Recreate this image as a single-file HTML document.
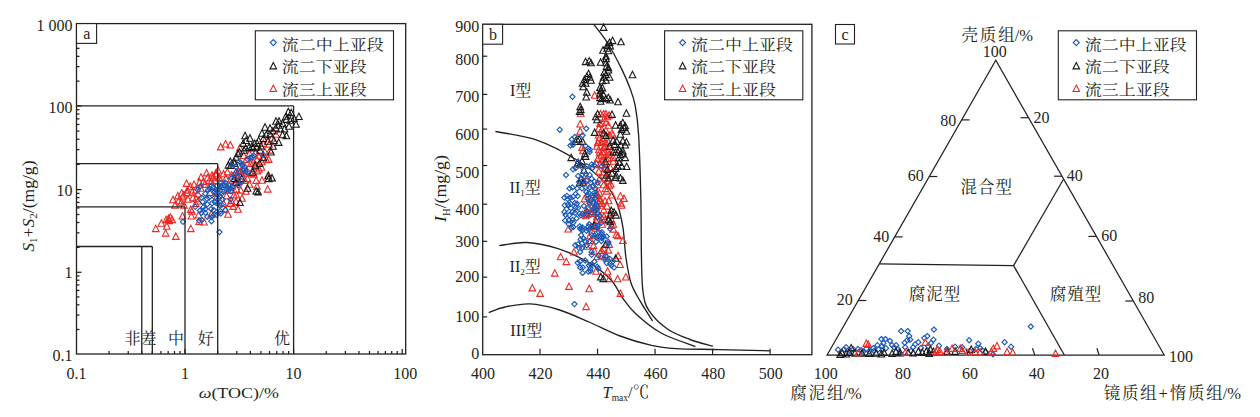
<!DOCTYPE html>
<html><head><meta charset="utf-8"><style>
html,body{margin:0;padding:0;background:#fff;overflow:hidden}
svg{display:block}
text{fill:#231f20}
</style></head><body>
<svg width="1260" height="417" viewBox="0 0 1260 417">
<rect width="1260" height="417" fill="#fff"/>
<line x1="109.09" y1="354.00" x2="109.09" y2="351.00" stroke="#231f20" stroke-width="1.25"/>
<line x1="128.22" y1="354.00" x2="128.22" y2="351.00" stroke="#231f20" stroke-width="1.25"/>
<line x1="141.78" y1="354.00" x2="141.78" y2="351.00" stroke="#231f20" stroke-width="1.25"/>
<line x1="152.31" y1="354.00" x2="152.31" y2="351.00" stroke="#231f20" stroke-width="1.25"/>
<line x1="160.91" y1="354.00" x2="160.91" y2="351.00" stroke="#231f20" stroke-width="1.25"/>
<line x1="168.18" y1="354.00" x2="168.18" y2="351.00" stroke="#231f20" stroke-width="1.25"/>
<line x1="174.48" y1="354.00" x2="174.48" y2="351.00" stroke="#231f20" stroke-width="1.25"/>
<line x1="180.03" y1="354.00" x2="180.03" y2="351.00" stroke="#231f20" stroke-width="1.25"/>
<line x1="185.00" y1="354.00" x2="185.00" y2="349.00" stroke="#231f20" stroke-width="1.25"/>
<line x1="217.69" y1="354.00" x2="217.69" y2="351.00" stroke="#231f20" stroke-width="1.25"/>
<line x1="236.82" y1="354.00" x2="236.82" y2="351.00" stroke="#231f20" stroke-width="1.25"/>
<line x1="250.38" y1="354.00" x2="250.38" y2="351.00" stroke="#231f20" stroke-width="1.25"/>
<line x1="260.91" y1="354.00" x2="260.91" y2="351.00" stroke="#231f20" stroke-width="1.25"/>
<line x1="269.51" y1="354.00" x2="269.51" y2="351.00" stroke="#231f20" stroke-width="1.25"/>
<line x1="276.78" y1="354.00" x2="276.78" y2="351.00" stroke="#231f20" stroke-width="1.25"/>
<line x1="283.08" y1="354.00" x2="283.08" y2="351.00" stroke="#231f20" stroke-width="1.25"/>
<line x1="288.63" y1="354.00" x2="288.63" y2="351.00" stroke="#231f20" stroke-width="1.25"/>
<line x1="293.60" y1="354.00" x2="293.60" y2="349.00" stroke="#231f20" stroke-width="1.25"/>
<line x1="326.29" y1="354.00" x2="326.29" y2="351.00" stroke="#231f20" stroke-width="1.25"/>
<line x1="345.42" y1="354.00" x2="345.42" y2="351.00" stroke="#231f20" stroke-width="1.25"/>
<line x1="358.98" y1="354.00" x2="358.98" y2="351.00" stroke="#231f20" stroke-width="1.25"/>
<line x1="369.51" y1="354.00" x2="369.51" y2="351.00" stroke="#231f20" stroke-width="1.25"/>
<line x1="378.11" y1="354.00" x2="378.11" y2="351.00" stroke="#231f20" stroke-width="1.25"/>
<line x1="385.38" y1="354.00" x2="385.38" y2="351.00" stroke="#231f20" stroke-width="1.25"/>
<line x1="391.68" y1="354.00" x2="391.68" y2="351.00" stroke="#231f20" stroke-width="1.25"/>
<line x1="397.23" y1="354.00" x2="397.23" y2="351.00" stroke="#231f20" stroke-width="1.25"/>
<line x1="402.20" y1="354.00" x2="402.20" y2="349.00" stroke="#231f20" stroke-width="1.25"/>
<line x1="76.50" y1="329.48" x2="79.50" y2="329.48" stroke="#231f20" stroke-width="1.25"/>
<line x1="76.50" y1="315.07" x2="79.50" y2="315.07" stroke="#231f20" stroke-width="1.25"/>
<line x1="76.50" y1="304.85" x2="79.50" y2="304.85" stroke="#231f20" stroke-width="1.25"/>
<line x1="76.50" y1="296.92" x2="79.50" y2="296.92" stroke="#231f20" stroke-width="1.25"/>
<line x1="76.50" y1="290.45" x2="79.50" y2="290.45" stroke="#231f20" stroke-width="1.25"/>
<line x1="76.50" y1="284.97" x2="79.50" y2="284.97" stroke="#231f20" stroke-width="1.25"/>
<line x1="76.50" y1="280.23" x2="79.50" y2="280.23" stroke="#231f20" stroke-width="1.25"/>
<line x1="76.50" y1="276.04" x2="79.50" y2="276.04" stroke="#231f20" stroke-width="1.25"/>
<line x1="76.50" y1="272.30" x2="81.50" y2="272.30" stroke="#231f20" stroke-width="1.25"/>
<line x1="76.50" y1="247.40" x2="79.50" y2="247.40" stroke="#231f20" stroke-width="1.25"/>
<line x1="76.50" y1="232.84" x2="79.50" y2="232.84" stroke="#231f20" stroke-width="1.25"/>
<line x1="76.50" y1="222.51" x2="79.50" y2="222.51" stroke="#231f20" stroke-width="1.25"/>
<line x1="76.50" y1="214.50" x2="79.50" y2="214.50" stroke="#231f20" stroke-width="1.25"/>
<line x1="76.50" y1="207.95" x2="79.50" y2="207.95" stroke="#231f20" stroke-width="1.25"/>
<line x1="76.50" y1="202.41" x2="79.50" y2="202.41" stroke="#231f20" stroke-width="1.25"/>
<line x1="76.50" y1="197.61" x2="79.50" y2="197.61" stroke="#231f20" stroke-width="1.25"/>
<line x1="76.50" y1="193.38" x2="79.50" y2="193.38" stroke="#231f20" stroke-width="1.25"/>
<line x1="76.50" y1="189.60" x2="81.50" y2="189.60" stroke="#231f20" stroke-width="1.25"/>
<line x1="76.50" y1="164.40" x2="79.50" y2="164.40" stroke="#231f20" stroke-width="1.25"/>
<line x1="76.50" y1="149.66" x2="79.50" y2="149.66" stroke="#231f20" stroke-width="1.25"/>
<line x1="76.50" y1="139.21" x2="79.50" y2="139.21" stroke="#231f20" stroke-width="1.25"/>
<line x1="76.50" y1="131.10" x2="79.50" y2="131.10" stroke="#231f20" stroke-width="1.25"/>
<line x1="76.50" y1="124.47" x2="79.50" y2="124.47" stroke="#231f20" stroke-width="1.25"/>
<line x1="76.50" y1="118.87" x2="79.50" y2="118.87" stroke="#231f20" stroke-width="1.25"/>
<line x1="76.50" y1="114.01" x2="79.50" y2="114.01" stroke="#231f20" stroke-width="1.25"/>
<line x1="76.50" y1="109.73" x2="79.50" y2="109.73" stroke="#231f20" stroke-width="1.25"/>
<line x1="76.50" y1="105.90" x2="81.50" y2="105.90" stroke="#231f20" stroke-width="1.25"/>
<line x1="76.50" y1="81.13" x2="79.50" y2="81.13" stroke="#231f20" stroke-width="1.25"/>
<line x1="76.50" y1="66.63" x2="79.50" y2="66.63" stroke="#231f20" stroke-width="1.25"/>
<line x1="76.50" y1="56.35" x2="79.50" y2="56.35" stroke="#231f20" stroke-width="1.25"/>
<line x1="76.50" y1="48.37" x2="79.50" y2="48.37" stroke="#231f20" stroke-width="1.25"/>
<line x1="76.50" y1="41.86" x2="79.50" y2="41.86" stroke="#231f20" stroke-width="1.25"/>
<line x1="76.50" y1="36.35" x2="79.50" y2="36.35" stroke="#231f20" stroke-width="1.25"/>
<line x1="76.50" y1="31.58" x2="79.50" y2="31.58" stroke="#231f20" stroke-width="1.25"/>
<line x1="76.50" y1="27.37" x2="79.50" y2="27.37" stroke="#231f20" stroke-width="1.25"/>
<text x="124.50" y="343.60" font-size="16" text-anchor="start" font-family='"Liberation Serif", "Noto Serif CJK SC", serif' >非差</text>
<text x="168.00" y="343.60" font-size="16" text-anchor="start" font-family='"Liberation Serif", "Noto Serif CJK SC", serif' >中</text>
<text x="197.80" y="343.60" font-size="16" text-anchor="start" font-family='"Liberation Serif", "Noto Serif CJK SC", serif' >好</text>
<text x="273.90" y="343.60" font-size="16" text-anchor="start" font-family='"Liberation Serif", "Noto Serif CJK SC", serif' >优</text>
<path d="M155.8 225.2L159.1 231.6L152.5 231.6ZM161.4 219.8L164.7 226.2L158.1 226.2ZM165.6 229.7L168.9 236.1L162.3 236.1ZM166.8 222.8L170.1 229.2L163.5 229.2ZM166.2 216.2L169.5 222.6L162.9 222.6ZM168.6 215.0L171.9 221.4L165.3 221.4ZM170.4 213.8L173.7 220.2L167.1 220.2ZM172.2 216.2L175.5 222.6L168.9 222.6ZM169.2 217.4L172.5 223.8L165.9 223.8ZM175.8 233.0L179.1 239.4L172.5 239.4ZM190.8 225.2L194.1 231.6L187.5 231.6ZM182.4 212.6L185.7 219.0L179.1 219.0ZM191.4 212.6L194.7 219.0L188.1 219.0ZM190.8 206.0L194.1 212.4L187.5 212.4ZM173.0 196.3L176.3 202.7L169.7 202.7ZM177.8 192.5L181.1 198.9L174.5 198.9ZM181.7 189.6L185.0 196.0L178.4 196.0ZM178.8 197.3L182.1 203.7L175.5 203.7ZM182.6 193.5L185.9 199.9L179.3 199.9ZM186.5 180.0L189.8 186.4L183.2 186.4ZM190.3 182.9L193.6 189.3L187.0 189.3ZM194.1 181.0L197.4 187.4L190.8 187.4ZM187.4 186.7L190.7 193.1L184.1 193.1ZM192.2 188.7L195.5 195.1L188.9 195.1ZM196.0 195.4L199.3 201.8L192.7 201.8ZM198.0 190.6L201.3 197.0L194.7 197.0ZM200.8 184.8L204.1 191.2L197.5 191.2ZM204.7 181.0L208.0 187.4L201.4 187.4ZM206.6 169.5L209.9 175.9L203.3 175.9ZM207.6 174.3L210.9 180.7L204.3 180.7ZM211.4 178.1L214.7 184.5L208.1 184.5ZM213.3 182.9L216.6 189.3L210.0 189.3ZM225.8 175.2L229.1 181.6L222.5 181.6ZM222.9 181.0L226.2 187.4L219.6 187.4ZM226.7 186.7L230.0 193.1L223.4 193.1ZM220.7 143.5L224.0 149.9L217.4 149.9ZM225.5 140.6L228.8 147.0L222.2 147.0ZM230.3 141.6L233.6 148.0L227.0 148.0ZM209.2 177.1L212.5 183.5L205.9 183.5ZM214.9 177.1L218.2 183.5L211.6 183.5ZM203.4 178.0L206.7 184.4L200.1 184.4ZM223.6 170.4L226.9 176.8L220.3 176.8ZM227.4 168.5L230.7 174.9L224.1 174.9ZM220.7 177.1L224.0 183.5L217.4 183.5ZM228.4 180.9L231.7 187.3L225.1 187.3ZM231.2 186.7L234.5 193.1L227.9 193.1ZM234.1 191.5L237.4 197.9L230.8 197.9ZM226.5 192.4L229.8 198.8L223.2 198.8ZM231.2 197.2L234.5 203.6L227.9 203.6ZM233.2 203.0L236.5 209.4L229.9 209.4ZM223.6 200.1L226.9 206.5L220.3 206.5ZM225.5 205.9L228.8 212.3L222.2 212.3ZM236.0 198.2L239.3 204.6L232.7 204.6ZM240.8 186.7L244.1 193.1L237.5 193.1ZM244.7 177.1L248.0 183.5L241.4 183.5ZM249.5 180.9L252.8 187.3L246.2 187.3ZM247.6 175.2L250.9 181.6L244.3 181.6ZM256.2 177.1L259.5 183.5L252.9 183.5ZM259.1 165.6L262.4 172.0L255.8 172.0ZM253.3 158.9L256.6 165.3L250.0 165.3ZM257.1 156.0L260.4 162.4L253.8 162.4ZM262.9 154.1L266.2 160.5L259.6 160.5ZM249.5 150.2L252.8 156.6L246.2 156.6ZM243.7 152.1L247.0 158.5L240.4 158.5ZM239.9 144.5L243.2 150.9L236.6 150.9ZM267.7 185.7L271.0 192.1L264.4 192.1ZM268.7 156.0L272.0 162.4L265.4 162.4ZM195.8 186.7L199.1 193.1L192.5 193.1ZM192.9 194.4L196.2 200.8L189.6 200.8ZM195.8 200.1L199.1 206.5L192.5 206.5ZM199.6 179.0L202.9 185.4L196.3 185.4ZM191.9 207.8L195.2 214.2L188.6 214.2ZM198.6 211.6L201.9 218.0L195.3 218.0ZM263.4 140.0L266.7 146.4L260.1 146.4ZM269.1 140.9L272.4 147.3L265.8 147.3ZM270.1 146.7L273.4 153.1L266.8 153.1ZM255.7 148.6L259.0 155.0L252.4 155.0ZM258.6 152.4L261.9 158.8L255.3 158.8ZM266.3 156.3L269.6 162.7L263.0 162.7ZM250.9 160.1L254.2 166.5L247.6 166.5ZM255.7 163.0L259.0 169.4L252.4 169.4ZM244.2 162.0L247.5 168.4L240.9 168.4ZM238.4 167.8L241.7 174.2L235.1 174.2ZM236.5 172.6L239.8 179.0L233.2 179.0ZM246.1 169.7L249.4 176.1L242.8 176.1ZM253.8 170.7L257.1 177.1L250.5 177.1ZM268.2 171.6L271.5 178.0L264.9 178.0ZM261.5 163.9L264.8 170.3L258.2 170.3ZM181.2 198.8L184.5 205.2L177.9 205.2ZM230.4 200.0L233.7 206.4L227.1 206.4ZM236.4 191.6L239.7 198.0L233.1 198.0ZM183.6 191.6L186.9 198.0L180.3 198.0ZM187.2 189.2L190.5 195.6L183.9 195.6ZM198.0 197.6L201.3 204.0L194.7 204.0ZM199.2 218.0L202.5 224.4L195.9 224.4ZM204.0 218.6L207.3 225.0L200.7 225.0ZM211.2 210.8L214.5 217.2L207.9 217.2ZM175.0 201.8L178.3 208.2L171.7 208.2ZM184.0 201.8L187.3 208.2L180.7 208.2ZM188.0 195.8L191.3 202.2L184.7 202.2ZM201.0 173.8L204.3 180.2L197.7 180.2ZM216.0 171.8L219.3 178.2L212.7 178.2ZM218.0 166.8L221.3 173.2L214.7 173.2ZM212.0 171.8L215.3 178.2L208.7 178.2ZM276.0 130.8L279.3 137.2L272.7 137.2ZM272.0 134.8L275.3 141.2L268.7 141.2ZM262.0 176.8L265.3 183.2L258.7 183.2ZM257.0 182.8L260.3 189.2L253.7 189.2ZM246.0 187.8L249.3 194.2L242.7 194.2ZM242.0 194.8L245.3 201.2L238.7 201.2ZM238.0 205.8L241.3 212.2L234.7 212.2ZM228.0 210.8L231.3 217.2L224.7 217.2ZM209.7 189.1L213.0 195.6L206.4 195.6ZM235.7 169.2L239.0 175.7L232.4 175.7ZM232.1 182.8L235.4 189.3L228.8 189.3ZM216.5 194.0L219.8 200.5L213.2 200.5ZM264.9 148.3L268.2 154.8L261.6 154.8ZM231.5 171.6L234.8 178.0L228.2 178.0ZM215.8 169.7L219.1 176.2L212.5 176.2ZM246.2 156.1L249.5 162.5L242.9 162.5ZM236.4 176.2L239.7 182.7L233.1 182.7ZM257.4 167.5L260.7 173.9L254.1 173.9ZM212.5 174.2L215.8 180.7L209.2 180.7ZM236.6 185.7L239.9 192.2L233.3 192.2ZM261.9 158.4L265.2 164.8L258.6 164.8ZM241.6 169.7L244.9 176.2L238.3 176.2ZM219.4 174.2L222.7 180.6L216.1 180.6ZM240.4 168.1L243.7 174.5L237.1 174.5ZM238.8 177.9L242.1 184.4L235.5 184.4ZM244.1 169.7L247.4 176.1L240.8 176.1ZM218.4 188.9L221.7 195.3L215.1 195.3ZM251.2 169.5L254.5 176.0L247.9 176.0Z" fill="none" stroke="#ea2a25" stroke-width="1.1"/>
<path d="M291.2 109.3L294.5 115.7L287.9 115.7ZM298.9 113.1L302.2 119.5L295.6 119.5ZM296.0 120.8L299.3 127.2L292.7 127.2ZM290.2 116.9L293.5 123.3L286.9 123.3ZM286.4 116.0L289.7 122.4L283.1 122.4ZM282.6 119.8L285.9 126.2L279.3 126.2ZM278.7 121.8L282.0 128.2L275.4 128.2ZM275.8 124.6L279.1 131.0L272.5 131.0ZM273.0 127.5L276.3 133.9L269.7 133.9ZM280.6 125.6L283.9 132.0L277.3 132.0ZM284.5 125.6L287.8 132.0L281.2 132.0ZM270.1 130.4L273.4 136.8L266.8 136.8ZM266.3 131.3L269.6 137.7L263.0 137.7ZM282.6 131.3L285.9 137.7L279.3 137.7ZM286.4 132.3L289.7 138.7L283.1 138.7ZM245.1 132.3L248.4 138.7L241.8 138.7ZM246.1 137.1L249.4 143.5L242.8 143.5ZM243.2 140.0L246.5 146.4L239.9 146.4ZM263.4 135.2L266.7 141.6L260.1 141.6ZM258.6 137.1L261.9 143.5L255.3 143.5ZM254.7 140.0L258.0 146.4L251.4 146.4ZM251.9 142.8L255.2 149.2L248.6 149.2ZM249.0 143.8L252.3 150.2L245.7 150.2ZM256.6 143.8L259.9 150.2L253.3 150.2ZM273.9 137.1L277.2 143.5L270.6 143.5ZM278.7 139.0L282.0 145.4L275.4 145.4ZM273.0 142.8L276.3 149.2L269.7 149.2ZM239.4 148.6L242.7 155.0L236.1 155.0ZM234.6 160.1L237.9 166.5L231.3 166.5ZM230.8 162.0L234.1 168.4L227.5 168.4ZM252.8 168.8L256.1 175.2L249.5 175.2ZM268.2 172.6L271.5 179.0L264.9 179.0ZM272.0 174.5L275.3 180.9L268.7 180.9ZM263.4 154.4L266.7 160.8L260.1 160.8ZM259.5 160.1L262.8 166.5L256.2 166.5ZM271.0 148.6L274.3 155.0L267.7 155.0ZM288.3 108.3L291.6 114.7L285.0 114.7ZM294.1 115.0L297.4 121.4L290.8 121.4ZM230.3 157.9L233.6 164.3L227.0 164.3ZM234.1 157.9L237.4 164.3L230.8 164.3ZM228.4 161.7L231.7 168.1L225.1 168.1ZM238.0 150.2L241.3 156.6L234.7 156.6ZM245.6 144.5L248.9 150.9L242.3 150.9ZM257.1 139.7L260.4 146.1L253.8 146.1ZM261.0 142.6L264.3 149.0L257.7 149.0ZM253.3 144.5L256.6 150.9L250.0 150.9ZM255.2 161.7L258.5 168.1L251.9 168.1ZM247.6 184.8L250.9 191.2L244.3 191.2ZM256.2 187.6L259.5 194.0L252.9 194.0ZM258.1 188.6L261.4 195.0L254.8 195.0ZM239.9 199.1L243.2 205.5L236.6 205.5ZM268.7 175.2L272.0 181.6L265.4 181.6ZM234.1 175.2L237.4 181.6L230.8 181.6ZM236.0 179.0L239.3 185.4L232.7 185.4ZM241.8 175.2L245.1 181.6L238.5 181.6ZM286.0 112.8L289.3 119.2L282.7 119.2ZM279.0 117.8L282.3 124.2L275.7 124.2ZM270.0 124.8L273.3 131.2L266.7 131.2ZM262.0 129.8L265.3 136.2L258.7 136.2ZM250.0 134.8L253.3 141.2L246.7 141.2ZM265.0 123.8L268.3 130.2L261.7 130.2ZM276.0 117.8L279.3 124.2L272.7 124.2ZM289.0 122.8L292.3 129.2L285.7 129.2ZM268.0 137.8L271.3 144.2L264.7 144.2ZM260.0 146.8L263.3 153.2L256.7 153.2ZM244.0 146.8L247.3 153.2L240.7 153.2ZM236.0 153.8L239.3 160.2L232.7 160.2Z" fill="none" stroke="#1a1a1a" stroke-width="1.1"/>
<path d="M195.3 204.2L197.9 206.8L195.3 209.4L192.7 206.8ZM183.0 219.2L185.6 221.8L183.0 224.4L180.4 221.8ZM199.2 218.0L201.8 220.6L199.2 223.2L196.6 220.6ZM219.4 229.5L222.0 232.1L219.4 234.7L216.8 232.1ZM231.2 162.3L233.8 164.9L231.2 167.5L228.6 164.9ZM236.0 164.3L238.6 166.9L236.0 169.5L233.4 166.9ZM240.8 160.4L243.4 163.0L240.8 165.6L238.2 163.0ZM244.7 164.3L247.3 166.9L244.7 169.5L242.1 166.9ZM247.6 156.6L250.2 159.2L247.6 161.8L245.0 159.2ZM252.4 154.7L255.0 157.3L252.4 159.9L249.8 157.3ZM239.9 169.1L242.5 171.7L239.9 174.3L237.3 171.7ZM245.6 169.1L248.2 171.7L245.6 174.3L243.0 171.7ZM234.1 171.9L236.7 174.5L234.1 177.1L231.5 174.5ZM238.0 173.9L240.6 176.5L238.0 179.1L235.4 176.5ZM241.8 178.6L244.4 181.2L241.8 183.8L239.2 181.2ZM238.9 182.5L241.5 185.1L238.9 187.7L236.3 185.1ZM231.2 175.8L233.8 178.4L231.2 181.0L228.6 178.4ZM224.5 182.5L227.1 185.1L224.5 187.7L221.9 185.1ZM220.7 184.4L223.3 187.0L220.7 189.6L218.1 187.0ZM228.4 185.4L231.0 188.0L228.4 190.6L225.8 188.0ZM223.6 189.2L226.2 191.8L223.6 194.4L221.0 191.8ZM217.8 187.3L220.4 189.9L217.8 192.5L215.2 189.9ZM214.9 195.0L217.5 197.6L214.9 200.2L212.3 197.6ZM218.8 195.9L221.4 198.5L218.8 201.1L216.2 198.5ZM222.6 196.9L225.2 199.5L222.6 202.1L220.0 199.5ZM219.7 202.6L222.3 205.2L219.7 207.8L217.1 205.2ZM211.1 183.5L213.7 186.1L211.1 188.7L208.5 186.1ZM208.2 187.3L210.8 189.9L208.2 192.5L205.6 189.9ZM205.3 191.1L207.9 193.7L205.3 196.3L202.7 193.7ZM201.5 195.0L204.1 197.6L201.5 200.2L198.9 197.6ZM209.2 195.0L211.8 197.6L209.2 200.2L206.6 197.6ZM212.1 200.7L214.7 203.3L212.1 205.9L209.5 203.3ZM207.3 201.7L209.9 204.3L207.3 206.9L204.7 204.3ZM203.4 204.6L206.0 207.2L203.4 209.8L200.8 207.2ZM211.1 206.5L213.7 209.1L211.1 211.7L208.5 209.1ZM216.9 209.4L219.5 212.0L216.9 214.6L214.3 212.0ZM205.3 210.3L207.9 212.9L205.3 215.5L202.7 212.9ZM201.5 210.3L204.1 212.9L201.5 215.5L198.9 212.9ZM213.0 213.2L215.6 215.8L213.0 218.4L210.4 215.8ZM207.3 214.1L209.9 216.7L207.3 219.3L204.7 216.7ZM197.7 187.3L200.3 189.9L197.7 192.5L195.1 189.9ZM200.6 183.5L203.2 186.1L200.6 188.7L198.0 186.1ZM239.4 158.8L242.0 161.4L239.4 164.0L236.8 161.4ZM242.3 162.6L244.9 165.2L242.3 167.8L239.7 165.2ZM250.0 155.0L252.6 157.6L250.0 160.2L247.4 157.6ZM253.8 153.0L256.4 155.6L253.8 158.2L251.2 155.6ZM263.4 152.1L266.0 154.7L263.4 157.3L260.8 154.7ZM244.2 166.4L246.8 169.0L244.2 171.6L241.6 169.0ZM236.5 169.4L239.1 172.0L236.5 174.6L233.9 172.0ZM248.0 169.4L250.6 172.0L248.0 174.6L245.4 172.0ZM214.6 188.7L217.2 191.3L214.6 193.9L212.0 191.3ZM215.3 190.8L217.9 193.4L215.3 196.0L212.7 193.4ZM217.4 200.9L220.0 203.5L217.4 206.1L214.8 203.5ZM222.6 185.0L225.2 187.6L222.6 190.2L220.0 187.6ZM211.4 218.6L214.0 221.2L211.4 223.8L208.8 221.2ZM232.7 184.2L235.3 186.8L232.7 189.4L230.1 186.8ZM225.4 207.4L228.0 210.0L225.4 212.6L222.8 210.0ZM215.1 199.7L217.7 202.3L215.1 204.9L212.5 202.3ZM216.5 212.3L219.1 214.9L216.5 217.5L213.9 214.9ZM211.4 214.5L214.0 217.1L211.4 219.7L208.8 217.1ZM230.5 196.8L233.1 199.4L230.5 202.0L227.9 199.4ZM230.8 188.7L233.4 191.3L230.8 193.9L228.2 191.3ZM221.8 202.1L224.4 204.7L221.8 207.3L219.2 204.7ZM209.9 186.1L212.5 188.7L209.9 191.3L207.3 188.7ZM220.8 180.6L223.4 183.2L220.8 185.8L218.2 183.2ZM230.8 185.4L233.4 188.0L230.8 190.6L228.2 188.0ZM225.1 179.9L227.7 182.5L225.1 185.1L222.5 182.5ZM202.7 199.3L205.3 201.9L202.7 204.5L200.1 201.9ZM228.9 187.7L231.5 190.3L228.9 192.9L226.3 190.3ZM213.8 207.5L216.4 210.1L213.8 212.7L211.2 210.1ZM201.9 217.5L204.5 220.1L201.9 222.7L199.3 220.1ZM199.9 208.0L202.5 210.6L199.9 213.2L197.3 210.6ZM205.4 206.4L208.0 209.0L205.4 211.6L202.8 209.0ZM220.5 208.6L223.1 211.2L220.5 213.8L217.9 211.2ZM215.5 186.9L218.1 189.5L215.5 192.1L212.9 189.5ZM222.1 190.7L224.7 193.3L222.1 195.9L219.5 193.3ZM229.6 182.8L232.2 185.4L229.6 188.0L227.0 185.4ZM219.5 193.9L222.1 196.5L219.5 199.1L216.9 196.5ZM217.0 183.4L219.6 186.0L217.0 188.6L214.4 186.0ZM207.1 196.1L209.7 198.7L207.1 201.3L204.5 198.7ZM220.8 211.0L223.4 213.6L220.8 216.2L218.2 213.6Z" fill="none" stroke="#1f5cb8" stroke-width="1.2"/>
<line x1="76.50" y1="105.90" x2="293.60" y2="105.90" stroke="#231f20" stroke-width="1.3"/>
<line x1="293.60" y1="105.90" x2="293.60" y2="354.00" stroke="#231f20" stroke-width="1.3"/>
<line x1="76.50" y1="163.70" x2="217.69" y2="163.70" stroke="#231f20" stroke-width="1.3"/>
<line x1="217.69" y1="163.70" x2="217.69" y2="354.00" stroke="#231f20" stroke-width="1.3"/>
<line x1="76.50" y1="206.90" x2="185.00" y2="206.90" stroke="#231f20" stroke-width="1.3"/>
<line x1="185.00" y1="206.90" x2="185.00" y2="354.00" stroke="#231f20" stroke-width="1.3"/>
<line x1="76.50" y1="246.50" x2="152.31" y2="246.50" stroke="#231f20" stroke-width="1.3"/>
<line x1="152.31" y1="246.50" x2="152.31" y2="354.00" stroke="#231f20" stroke-width="1.3"/>
<line x1="141.78" y1="246.50" x2="141.78" y2="354.00" stroke="#231f20" stroke-width="1.3"/>
<rect x="76.50" y="23.60" width="329.20" height="330.40" fill="none" stroke="#231f20" stroke-width="1.3"/>
<rect x="76.50" y="23.60" width="20.10" height="19.80" fill="#fff" stroke="#231f20" stroke-width="1.1"/>
<text x="86.80" y="39.30" font-size="16" text-anchor="middle" font-family='"Liberation Serif", "Noto Serif CJK SC", serif' >a</text>
<text x="72.60" y="360.70" font-size="16" text-anchor="end" font-family='"Liberation Serif", "Noto Serif CJK SC", serif' >0.1</text>
<text x="72.60" y="278.00" font-size="16" text-anchor="end" font-family='"Liberation Serif", "Noto Serif CJK SC", serif' >1</text>
<text x="72.60" y="196.20" font-size="16" text-anchor="end" font-family='"Liberation Serif", "Noto Serif CJK SC", serif' >10</text>
<text x="72.60" y="112.90" font-size="16" text-anchor="end" font-family='"Liberation Serif", "Noto Serif CJK SC", serif' >100</text>
<text x="72.60" y="30.90" font-size="16" text-anchor="end" font-family='"Liberation Serif", "Noto Serif CJK SC", serif' >1 000</text>
<text x="76.40" y="379.00" font-size="16" text-anchor="middle" font-family='"Liberation Serif", "Noto Serif CJK SC", serif' >0.1</text>
<text x="185.00" y="379.00" font-size="16" text-anchor="middle" font-family='"Liberation Serif", "Noto Serif CJK SC", serif' >1</text>
<text x="293.60" y="379.00" font-size="16" text-anchor="middle" font-family='"Liberation Serif", "Noto Serif CJK SC", serif' >10</text>
<text x="405.20" y="379.00" font-size="16" text-anchor="middle" font-family='"Liberation Serif", "Noto Serif CJK SC", serif' >100</text>
<text transform="translate(238.8,397.9) scale(1.16,1)" font-size="15.5" text-anchor="middle" font-family='"Liberation Serif", "Noto Serif CJK SC", serif'><tspan font-style="italic">ω</tspan>(TOC)/%</text>
<text transform="translate(33.6,206.1) rotate(-90) scale(1.1,1)" font-size="16" text-anchor="middle" font-family='"Liberation Serif", "Noto Serif CJK SC", serif'><tspan font-style="italic">S</tspan><tspan font-size="10" dy="3">1</tspan><tspan dy="-3">+</tspan><tspan font-style="italic">S</tspan><tspan font-size="10" dy="3">2</tspan><tspan dy="-3">/(mg/g)</tspan></text>
<rect x="255.30" y="30.80" width="138.20" height="69.00" fill="#fff" stroke="#231f20" stroke-width="1.1"/>
<path d="M273.3 39.6L276.3 42.6L273.3 45.6L270.3 42.6Z" fill="none" stroke="#1f5cb8" stroke-width="1.2"/>
<path d="M273.3 62.5L276.6 68.9L270.0 68.9Z" fill="none" stroke="#1a1a1a" stroke-width="1.1"/>
<path d="M273.3 85.1L276.6 91.5L270.0 91.5Z" fill="none" stroke="#ea2a25" stroke-width="1.1"/>
<text transform="translate(281.70,49.80) scale(1,0.87)" font-size="17" font-family='"Liberation Serif", "Noto Serif CJK SC", serif'>流二中上亚段</text>
<text transform="translate(281.70,72.30) scale(1,0.87)" font-size="17" font-family='"Liberation Serif", "Noto Serif CJK SC", serif'>流二下亚段</text>
<text transform="translate(281.70,95.00) scale(1,0.87)" font-size="17" font-family='"Liberation Serif", "Noto Serif CJK SC", serif'>流三上亚段</text>
<line x1="482.70" y1="316.90" x2="487.20" y2="316.90" stroke="#231f20" stroke-width="1.2"/>
<line x1="482.70" y1="277.20" x2="487.20" y2="277.20" stroke="#231f20" stroke-width="1.2"/>
<line x1="482.70" y1="241.30" x2="487.20" y2="241.30" stroke="#231f20" stroke-width="1.2"/>
<line x1="482.70" y1="204.20" x2="487.20" y2="204.20" stroke="#231f20" stroke-width="1.2"/>
<line x1="482.70" y1="165.50" x2="487.20" y2="165.50" stroke="#231f20" stroke-width="1.2"/>
<line x1="482.70" y1="129.10" x2="487.20" y2="129.10" stroke="#231f20" stroke-width="1.2"/>
<line x1="482.70" y1="94.40" x2="487.20" y2="94.40" stroke="#231f20" stroke-width="1.2"/>
<line x1="482.70" y1="56.20" x2="487.20" y2="56.20" stroke="#231f20" stroke-width="1.2"/>
<line x1="540.02" y1="354.70" x2="540.02" y2="348.70" stroke="#231f20" stroke-width="1.2"/>
<line x1="597.54" y1="354.70" x2="597.54" y2="348.70" stroke="#231f20" stroke-width="1.2"/>
<line x1="655.06" y1="354.70" x2="655.06" y2="348.70" stroke="#231f20" stroke-width="1.2"/>
<line x1="712.58" y1="354.70" x2="712.58" y2="348.70" stroke="#231f20" stroke-width="1.2"/>
<line x1="770.10" y1="354.70" x2="770.10" y2="348.70" stroke="#231f20" stroke-width="1.2"/>
<path d="M488.7 312.6C491.4 311.7 498.1 308.4 505.0 307.0C511.9 305.6 521.2 303.5 530.0 303.9C538.8 304.3 548.2 306.5 558.0 309.5C567.8 312.5 578.7 317.6 589.0 322.0C599.3 326.4 609.6 332.1 620.0 336.0C630.4 339.9 642.2 343.3 651.5 345.4C660.8 347.5 664.6 347.9 676.0 348.6C687.4 349.3 704.3 349.2 720.0 349.6C735.7 350.0 761.7 350.6 770.0 350.8" fill="none" stroke="#231f20" stroke-width="1.35"/>
<path d="M499.3 245.6C503.9 245.1 517.0 242.0 526.8 242.5C536.6 243.0 547.6 245.3 558.0 248.7C568.4 252.1 580.2 257.5 589.0 262.7C597.8 267.9 605.3 274.0 611.0 280.0C616.7 286.0 618.8 292.9 623.0 298.6C627.2 304.3 629.7 308.3 636.0 314.0C642.3 319.7 651.1 327.6 661.0 333.0C670.9 338.4 689.7 344.3 695.4 346.6" fill="none" stroke="#231f20" stroke-width="1.35"/>
<path d="M495.4 131.5C502.4 133.0 524.2 135.6 537.6 140.3C551.0 145.0 565.1 152.8 576.0 159.5C586.9 166.2 596.1 173.6 602.8 180.6C609.5 187.6 613.0 194.0 616.3 201.7C619.6 209.4 621.2 217.3 622.8 226.7C624.4 236.1 624.6 248.6 626.0 258.0C627.4 267.4 628.6 275.7 631.0 283.0C633.4 290.3 636.9 295.4 640.5 301.7C644.1 308.0 650.6 317.8 652.6 321.0" fill="none" stroke="#231f20" stroke-width="1.35"/>
<path d="M593.8 24.3C596.1 27.4 603.0 35.6 607.6 43.0C612.2 50.4 617.8 61.2 621.6 68.9C625.4 76.6 628.0 82.8 630.3 89.0C632.6 95.2 633.9 98.5 635.3 106.2C636.7 113.9 637.7 119.9 638.6 135.0C639.5 150.1 640.3 176.2 640.8 197.0C641.3 217.8 641.1 244.2 641.5 260.0C641.9 275.8 641.8 283.2 643.0 291.6C644.2 300.0 644.7 304.1 648.8 310.3C652.9 316.5 660.6 324.1 667.5 329.0C674.4 333.9 682.4 336.6 690.0 339.5C697.6 342.4 709.1 345.1 712.9 346.2" fill="none" stroke="#231f20" stroke-width="1.35"/>
<text x="510.00" y="95.60" font-size="16" text-anchor="start" font-family='"Liberation Serif", "Noto Serif CJK SC", serif' >I型</text>
<text x="509.6" y="193.0" font-size="16" font-family='"Liberation Serif", "Noto Serif CJK SC", serif'>II<tspan font-size="9" dy="3">1</tspan><tspan dy="-3">型</tspan></text>
<text x="509.6" y="272.2" font-size="16" font-family='"Liberation Serif", "Noto Serif CJK SC", serif'>II<tspan font-size="9" dy="3">2</tspan><tspan dy="-3">型</tspan></text>
<text x="510.30" y="335.80" font-size="16" text-anchor="start" font-family='"Liberation Serif", "Noto Serif CJK SC", serif' >III型</text>
<path d="M594.6 91.8L597.9 98.2L591.3 98.2ZM580.8 109.8L584.1 116.2L577.5 116.2ZM603.6 110.4L606.9 116.8L600.3 116.8ZM606.0 110.4L609.3 116.8L602.7 116.8ZM580.2 120.6L583.5 127.0L576.9 127.0ZM580.2 127.8L583.5 134.2L576.9 134.2ZM582.0 144.0L585.3 150.4L578.7 150.4ZM604.2 115.2L607.5 121.6L600.9 121.6ZM600.0 120.0L603.3 126.4L596.7 126.4ZM606.0 118.8L609.3 125.2L602.7 125.2ZM608.4 121.8L611.7 128.2L605.1 128.2ZM598.8 124.8L602.1 131.2L595.5 131.2ZM601.8 126.0L605.1 132.4L598.5 132.4ZM606.0 127.2L609.3 133.6L602.7 133.6ZM612.0 129.6L615.3 136.0L608.7 136.0ZM609.6 132.0L612.9 138.4L606.3 138.4ZM599.4 134.4L602.7 140.8L596.1 140.8ZM602.4 135.6L605.7 142.0L599.1 142.0ZM597.6 139.2L600.9 145.6L594.3 145.6ZM601.2 139.2L604.5 145.6L597.9 145.6ZM605.4 138.0L608.7 144.4L602.1 144.4ZM597.0 142.8L600.3 149.2L593.7 149.2ZM600.6 142.8L603.9 149.2L597.3 149.2ZM603.6 144.0L606.9 150.4L600.3 150.4ZM598.8 146.4L602.1 152.8L595.5 152.8ZM602.4 148.2L605.7 154.6L599.1 154.6ZM612.0 146.4L615.3 152.8L608.7 152.8ZM608.4 151.2L611.7 157.6L605.1 157.6ZM601.2 152.4L604.5 158.8L597.9 158.8ZM613.2 154.2L616.5 160.6L609.9 160.6ZM597.6 155.4L600.9 161.8L594.3 161.8ZM601.2 156.6L604.5 163.0L597.9 163.0ZM606.0 155.4L609.3 161.8L602.7 161.8ZM613.2 157.8L616.5 164.2L609.9 164.2ZM620.4 192.6L623.7 199.0L617.1 199.0ZM624.0 195.0L627.3 201.4L620.7 201.4ZM610.8 180.6L614.1 187.0L607.5 187.0ZM604.8 165.0L608.1 171.4L601.5 171.4ZM607.2 113.3L610.5 119.7L603.9 119.7ZM602.4 119.3L605.7 125.7L599.1 125.7ZM568.2 225.6L571.5 232.0L564.9 232.0ZM560.6 253.4L563.9 259.8L557.3 259.8ZM566.3 258.2L569.6 264.6L563.0 264.6ZM554.8 269.7L558.1 276.1L551.5 276.1ZM574.0 248.6L577.3 255.0L570.7 255.0ZM621.0 199.7L624.3 206.1L617.7 206.1ZM616.2 231.3L619.5 237.7L612.9 237.7ZM622.9 237.1L626.2 243.5L619.6 243.5ZM618.1 252.4L621.4 258.8L614.8 258.8ZM620.0 261.1L623.3 267.5L616.7 267.5ZM613.3 220.8L616.6 227.2L610.0 227.2ZM607.6 267.8L610.9 274.2L604.3 274.2ZM596.0 267.8L599.3 274.2L592.7 274.2ZM532.3 284.5L535.6 290.9L529.0 290.9ZM540.1 290.0L543.4 296.4L536.8 296.4ZM569.0 283.0L572.3 289.4L565.7 289.4ZM589.2 285.3L592.5 291.7L585.9 291.7ZM586.1 303.2L589.4 309.6L582.8 309.6ZM609.5 275.2L612.8 281.6L606.2 281.6ZM625.8 273.6L629.1 280.0L622.5 280.0ZM620.4 290.0L623.7 296.4L617.1 296.4ZM597.0 253.4L600.3 259.8L593.7 259.8ZM621.6 201.9L624.9 208.3L618.3 208.3ZM617.6 275.4L620.9 281.8L614.3 281.8ZM599.8 148.7L603.1 155.1L596.5 155.1ZM604.6 148.7L607.9 155.1L601.3 155.1ZM608.4 147.8L611.7 154.2L605.1 154.2ZM603.6 155.4L606.9 161.8L600.3 161.8ZM608.4 155.4L611.7 161.8L605.1 161.8ZM599.8 161.2L603.1 167.6L596.5 167.6ZM605.5 161.2L608.8 167.6L602.2 167.6ZM610.3 164.1L613.6 170.5L607.0 170.5ZM598.8 167.9L602.1 174.3L595.5 174.3ZM603.6 168.9L606.9 175.3L600.3 175.3ZM608.4 169.8L611.7 176.2L605.1 176.2ZM599.8 174.6L603.1 181.0L596.5 181.0ZM604.6 174.6L607.9 181.0L601.3 181.0ZM608.4 177.5L611.7 183.9L605.1 183.9ZM597.8 181.3L601.1 187.7L594.5 187.7ZM603.6 181.3L606.9 187.7L600.3 187.7ZM609.3 182.3L612.6 188.7L606.0 188.7ZM605.5 185.2L608.8 191.6L602.2 191.6ZM577.2 160.2L580.5 166.6L573.9 166.6ZM583.9 177.5L587.2 183.9L580.6 183.9ZM586.8 175.6L590.1 182.0L583.5 182.0ZM596.4 160.2L599.7 166.6L593.1 166.6ZM583.0 147.3L586.3 153.7L579.7 153.7ZM590.6 237.2L593.9 243.6L587.3 243.6ZM593.5 242.0L596.8 248.4L590.2 248.4ZM586.8 242.9L590.1 249.3L583.5 249.3ZM594.5 232.4L597.8 238.8L591.2 238.8ZM589.7 232.4L593.0 238.8L586.4 238.8ZM613.2 225.7L616.5 232.1L609.9 232.1ZM618.0 232.4L621.3 238.8L614.7 238.8ZM609.3 241.0L612.6 247.4L606.0 247.4ZM612.8 131.7L616.1 138.1L609.5 138.1ZM609.1 111.7L612.4 118.2L605.8 118.2ZM608.5 138.7L611.8 145.2L605.2 145.2ZM600.5 110.5L603.8 116.9L597.2 116.9ZM598.5 131.6L601.8 138.0L595.2 138.0ZM606.3 139.9L609.6 146.3L603.0 146.3ZM607.0 202.6L610.3 209.1L603.7 209.1ZM599.4 189.6L602.7 196.1L596.1 196.1ZM608.7 197.3L612.0 203.7L605.4 203.7ZM600.1 197.8L603.4 204.2L596.8 204.2ZM601.9 199.5L605.2 206.0L598.6 206.0ZM596.4 189.0L599.7 195.5L593.1 195.5ZM612.0 191.6L615.3 198.0L608.7 198.0ZM599.2 200.0L602.5 206.5L595.9 206.5ZM606.6 187.6L609.9 194.1L603.3 194.1ZM605.0 197.4L608.3 203.8L601.7 203.8ZM597.3 197.1L600.6 203.6L594.0 203.6ZM596.5 191.2L599.8 197.6L593.2 197.6ZM597.4 202.0L600.7 208.5L594.1 208.5ZM593.8 205.4L597.1 211.9L590.5 211.9ZM596.1 217.4L599.4 223.9L592.8 223.9ZM595.7 224.8L599.0 231.2L592.4 231.2ZM585.8 209.5L589.1 216.0L582.5 216.0ZM593.3 208.2L596.6 214.7L590.0 214.7ZM586.2 207.0L589.5 213.5L582.9 213.5ZM595.7 221.9L599.0 228.3L592.4 228.3ZM596.8 213.5L600.1 220.0L593.5 220.0ZM585.7 212.2L589.0 218.7L582.4 218.7ZM588.7 203.6L592.0 210.1L585.4 210.1ZM591.0 210.0L594.3 216.5L587.7 216.5ZM591.1 223.2L594.4 229.6L587.8 229.6ZM604.1 212.9L607.4 219.4L600.8 219.4ZM605.0 216.3L608.3 222.7L601.7 222.7ZM602.4 215.8L605.7 222.3L599.1 222.3ZM598.2 209.5L601.5 216.0L594.9 216.0ZM603.7 206.5L607.0 212.9L600.4 212.9ZM610.6 209.7L613.9 216.1L607.3 216.1ZM611.4 221.9L614.7 228.4L608.1 228.4ZM602.3 220.7L605.6 227.2L599.0 227.2ZM611.7 216.4L615.0 222.9L608.4 222.9ZM601.8 251.8L605.1 258.3L598.5 258.3ZM608.4 246.7L611.7 253.1L605.1 253.1ZM605.5 250.8L608.8 257.3L602.2 257.3ZM603.9 244.9L607.2 251.3L600.6 251.3ZM594.4 247.6L597.7 254.1L591.1 254.1ZM601.5 246.9L604.8 253.4L598.2 253.4ZM606.7 253.2L610.0 259.7L603.4 259.7ZM600.6 232.6L603.9 239.0L597.3 239.0ZM600.1 195.4L603.4 201.8L596.8 201.8ZM594.7 210.0L598.0 216.5L591.4 216.5ZM593.5 197.4L596.8 203.8L590.2 203.8ZM587.5 210.9L590.8 217.4L584.2 217.4ZM584.4 195.5L587.7 201.9L581.1 201.9ZM593.2 223.3L596.5 229.8L589.9 229.8ZM590.5 194.2L593.8 200.7L587.2 200.7Z" fill="none" stroke="#ea2a25" stroke-width="1.1"/>
<path d="M603.6 24.0L606.9 30.4L600.3 30.4ZM612.6 37.2L615.9 43.6L609.3 43.6ZM621.0 38.4L624.3 44.8L617.7 44.8ZM609.6 39.0L612.9 45.4L606.3 45.4ZM607.2 42.0L610.5 48.4L603.9 48.4ZM610.2 42.6L613.5 49.0L606.9 49.0ZM603.0 46.8L606.3 53.2L599.7 53.2ZM608.4 47.4L611.7 53.8L605.1 53.8ZM606.0 52.8L609.3 59.2L602.7 59.2ZM606.0 55.2L609.3 61.6L602.7 61.6ZM585.6 58.2L588.9 64.6L582.3 64.6ZM589.2 57.6L592.5 64.0L585.9 64.0ZM591.0 59.4L594.3 65.8L587.7 65.8ZM600.6 58.8L603.9 65.2L597.3 65.2ZM606.0 59.4L609.3 65.8L602.7 65.8ZM606.6 63.0L609.9 69.4L603.3 69.4ZM608.4 64.2L611.7 70.6L605.1 70.6ZM588.6 70.2L591.9 76.6L585.3 76.6ZM586.8 73.2L590.1 79.6L583.5 79.6ZM589.8 73.8L593.1 80.2L586.5 80.2ZM584.4 76.2L587.7 82.6L581.1 82.6ZM591.0 76.8L594.3 83.2L587.7 83.2ZM582.6 79.8L585.9 86.2L579.3 86.2ZM585.6 79.8L588.9 86.2L582.3 86.2ZM583.2 83.4L586.5 89.8L579.9 89.8ZM586.8 88.8L590.1 95.2L583.5 95.2ZM586.2 93.6L589.5 100.0L582.9 100.0ZM608.4 66.6L611.7 73.0L605.1 73.0ZM604.2 69.0L607.5 75.4L600.9 75.4ZM606.0 71.4L609.3 77.8L602.7 77.8ZM603.6 73.8L606.9 80.2L600.3 80.2ZM609.6 73.8L612.9 80.2L606.3 80.2ZM606.0 76.8L609.3 83.2L602.7 83.2ZM602.4 77.4L605.7 83.8L599.1 83.8ZM600.0 84.0L603.3 90.4L596.7 90.4ZM600.6 87.0L603.9 93.4L597.3 93.4ZM600.0 90.6L603.3 97.0L596.7 97.0ZM603.0 90.6L606.3 97.0L599.7 97.0ZM600.0 94.2L603.3 100.6L596.7 100.6ZM601.8 95.4L605.1 101.8L598.5 101.8ZM606.0 95.4L609.3 101.8L602.7 101.8ZM608.4 94.2L611.7 100.6L605.1 100.6ZM610.2 96.6L613.5 103.0L606.9 103.0ZM600.6 97.8L603.9 104.2L597.3 104.2ZM618.0 98.4L621.3 104.8L614.7 104.8ZM580.2 103.2L583.5 109.6L576.9 109.6ZM580.8 106.2L584.1 112.6L577.5 112.6ZM597.6 110.4L600.9 116.8L594.3 116.8ZM612.0 111.0L615.3 117.4L608.7 117.4ZM626.4 109.8L629.7 116.2L623.1 116.2ZM607.2 44.8L610.5 51.2L603.9 51.2ZM632.5 71.3L635.8 77.7L629.2 77.7ZM602.4 84.5L605.7 90.9L599.1 90.9ZM615.6 121.8L618.9 128.2L612.3 128.2ZM622.8 119.3L626.1 125.7L619.5 125.7ZM624.0 124.2L627.3 130.6L620.7 130.6ZM579.6 108.0L582.9 114.4L576.3 114.4ZM595.8 113.4L599.1 119.8L592.5 119.8ZM597.0 116.4L600.3 122.8L593.7 122.8ZM620.4 121.8L623.7 128.2L617.1 128.2ZM625.2 122.4L628.5 128.8L621.9 128.8ZM621.6 126.0L624.9 132.4L618.3 132.4ZM626.4 127.8L629.7 134.2L623.1 134.2ZM620.4 130.8L623.7 137.2L617.1 137.2ZM594.6 129.0L597.9 135.4L591.3 135.4ZM603.6 129.6L606.9 136.0L600.3 136.0ZM606.0 132.0L609.3 138.4L602.7 138.4ZM579.0 135.6L582.3 142.0L575.7 142.0ZM582.6 138.0L585.9 144.4L579.3 144.4ZM575.4 138.0L578.7 144.4L572.1 144.4ZM613.2 136.8L616.5 143.2L609.9 143.2ZM616.8 138.0L620.1 144.4L613.5 144.4ZM622.8 137.4L626.1 143.8L619.5 143.8ZM626.4 138.6L629.7 145.0L623.1 145.0ZM614.4 141.0L617.7 147.4L611.1 147.4ZM620.4 141.6L623.7 148.0L617.1 148.0ZM625.2 141.6L628.5 148.0L621.9 148.0ZM609.6 142.8L612.9 149.2L606.3 149.2ZM619.2 146.4L622.5 152.8L615.9 152.8ZM622.8 147.6L626.1 154.0L619.5 154.0ZM615.6 148.8L618.9 155.2L612.3 155.2ZM620.4 151.2L623.7 157.6L617.1 157.6ZM585.6 153.0L588.9 159.4L582.3 159.4ZM625.2 154.2L628.5 160.6L621.9 160.6ZM571.2 154.2L574.5 160.6L567.9 160.6ZM582.0 157.8L585.3 164.2L578.7 164.2ZM619.2 159.0L622.5 165.4L615.9 165.4ZM621.6 162.6L624.9 169.0L618.3 169.0ZM615.6 165.0L618.9 171.4L612.3 171.4ZM612.0 169.8L615.3 176.2L608.7 176.2ZM615.6 174.0L618.9 180.4L612.3 180.4ZM620.4 174.6L623.7 181.0L617.1 181.0ZM622.8 177.0L626.1 183.4L619.5 183.4ZM579.6 179.4L582.9 185.8L576.3 185.8ZM577.0 135.7L580.3 142.1L573.7 142.1ZM585.0 150.2L588.3 156.6L581.7 156.6ZM579.7 160.8L583.0 167.2L576.4 167.2ZM594.1 221.8L597.4 228.2L590.8 228.2ZM605.6 240.9L608.9 247.3L602.3 247.3ZM600.8 273.5L604.1 279.9L597.5 279.9ZM603.2 275.2L606.5 281.6L599.9 281.6ZM615.7 254.9L619.0 261.3L612.4 261.3ZM584.0 166.8L587.3 173.2L580.7 173.2ZM578.1 159.3L581.4 165.7L574.8 165.7ZM581.0 175.6L584.3 182.0L577.7 182.0ZM583.0 179.4L586.3 185.8L579.7 185.8ZM613.2 148.7L616.5 155.1L609.9 155.1ZM618.0 148.7L621.3 155.1L614.7 155.1ZM622.8 150.6L626.1 157.0L619.5 157.0ZM618.9 154.5L622.2 160.9L615.6 160.9ZM626.6 163.1L629.9 169.5L623.3 169.5ZM618.0 163.1L621.3 169.5L614.7 169.5ZM616.1 171.7L619.4 178.1L612.8 178.1ZM608.4 174.6L611.7 181.0L605.1 181.0ZM606.5 171.7L609.8 178.1L603.2 178.1ZM607.4 166.0L610.7 172.4L604.1 172.4ZM605.5 158.3L608.8 164.7L602.2 164.7ZM611.3 206.9L614.6 213.3L608.0 213.3ZM614.1 208.8L617.4 215.2L610.8 215.2ZM616.1 211.7L619.4 218.1L612.8 218.1ZM610.3 211.7L613.6 218.1L607.0 218.1ZM608.4 216.5L611.7 222.9L605.1 222.9ZM610.3 218.4L613.6 224.8L607.0 224.8Z" fill="none" stroke="#1a1a1a" stroke-width="1.1"/>
<path d="M572.4 94.2L575.0 96.8L572.4 99.4L569.8 96.8ZM586.2 126.0L588.8 128.6L586.2 131.2L583.6 128.6ZM582.6 132.6L585.2 135.2L582.6 137.8L580.0 135.2ZM574.8 134.4L577.4 137.0L574.8 139.6L572.2 137.0ZM571.8 136.8L574.4 139.4L571.8 142.0L569.2 139.4ZM573.0 142.2L575.6 144.8L573.0 147.4L570.4 144.8ZM585.6 143.4L588.2 146.0L585.6 148.6L583.0 146.0ZM588.0 145.8L590.6 148.4L588.0 151.0L585.4 148.4ZM589.8 147.0L592.4 149.6L589.8 152.2L587.2 149.6ZM559.8 127.1L562.4 129.7L559.8 132.3L557.2 129.7ZM570.4 142.9L573.0 145.5L570.4 148.1L567.8 145.5ZM575.7 165.4L578.3 168.0L575.7 170.6L573.1 168.0ZM573.0 166.7L575.6 169.3L573.0 171.9L570.4 169.3ZM574.4 301.5L577.0 304.1L574.4 306.7L571.8 304.1ZM566.0 172.4L568.6 175.0L566.0 177.6L563.4 175.0ZM578.0 159.4L580.6 162.0L578.0 164.6L575.4 162.0ZM589.7 149.3L592.3 151.9L589.7 154.5L587.1 151.9ZM582.0 164.7L584.6 167.3L582.0 169.9L579.4 167.3ZM586.8 163.7L589.4 166.3L586.8 168.9L584.2 166.3ZM591.6 161.8L594.2 164.4L591.6 167.0L589.0 164.4ZM592.5 165.1L595.1 167.7L592.5 170.3L589.9 167.7ZM578.1 173.3L580.7 175.9L578.1 178.5L575.5 175.9ZM582.0 172.3L584.6 174.9L582.0 177.5L579.4 174.9ZM585.8 171.4L588.4 174.0L585.8 176.6L583.2 174.0ZM589.7 172.3L592.3 174.9L589.7 177.5L587.1 174.9ZM591.6 176.2L594.2 178.8L591.6 181.4L589.0 178.8ZM579.1 179.1L581.7 181.7L579.1 184.3L576.5 181.7ZM583.0 178.1L585.6 180.7L583.0 183.3L580.4 180.7ZM586.8 178.1L589.4 180.7L586.8 183.3L584.2 180.7ZM590.6 180.0L593.2 182.6L590.6 185.2L588.0 182.6ZM594.5 179.1L597.1 181.7L594.5 184.3L591.9 181.7ZM569.5 185.8L572.1 188.4L569.5 191.0L566.9 188.4ZM572.4 184.8L575.0 187.4L572.4 190.0L569.8 187.4ZM577.2 185.8L579.8 188.4L577.2 191.0L574.6 188.4ZM582.0 185.8L584.6 188.4L582.0 191.0L579.4 188.4ZM585.8 184.8L588.4 187.4L585.8 190.0L583.2 187.4ZM589.7 184.8L592.3 187.4L589.7 190.0L587.1 187.4ZM595.4 185.8L598.0 188.4L595.4 191.0L592.8 188.4ZM601.7 163.7L604.3 166.3L601.7 168.9L599.1 166.3ZM597.8 180.0L600.4 182.6L597.8 185.2L595.2 182.6ZM594.0 162.7L596.6 165.3L594.0 167.9L591.4 165.3ZM575.3 242.6L577.9 245.2L575.3 247.8L572.7 245.2ZM578.1 241.6L580.7 244.2L578.1 246.8L575.5 244.2ZM582.0 240.7L584.6 243.3L582.0 245.9L579.4 243.3ZM579.1 245.5L581.7 248.1L579.1 250.7L576.5 248.1ZM582.0 245.5L584.6 248.1L582.0 250.7L579.4 248.1ZM580.1 249.3L582.7 251.9L580.1 254.5L577.5 251.9ZM584.9 238.7L587.5 241.3L584.9 243.9L582.3 241.3ZM586.8 242.6L589.4 245.2L586.8 247.8L584.2 245.2ZM591.6 249.3L594.2 251.9L591.6 254.5L589.0 251.9ZM591.6 252.2L594.2 254.8L591.6 257.4L589.0 254.8ZM580.1 258.9L582.7 261.5L580.1 264.1L577.5 261.5ZM594.5 258.9L597.1 261.5L594.5 264.1L591.9 261.5ZM571.4 225.3L574.0 227.9L571.4 230.5L568.8 227.9ZM573.3 224.4L575.9 227.0L573.3 229.6L570.7 227.0ZM579.6 211.0L582.2 213.6L579.6 216.2L577.0 213.6ZM586.3 189.4L588.9 192.0L586.3 194.6L583.7 192.0ZM572.6 217.4L575.2 220.0L572.6 222.6L570.0 220.0ZM587.2 208.7L589.8 211.3L587.2 213.9L584.6 211.3ZM582.5 211.2L585.1 213.8L582.5 216.4L579.9 213.8ZM568.1 201.9L570.7 204.5L568.1 207.1L565.5 204.5ZM568.7 221.5L571.3 224.1L568.7 226.7L566.1 224.1ZM565.1 217.8L567.7 220.4L565.1 223.0L562.5 220.4ZM565.6 212.3L568.2 214.9L565.6 217.5L563.0 214.9ZM574.8 200.4L577.4 203.0L574.8 205.6L572.2 203.0ZM592.5 184.2L595.1 186.8L592.5 189.4L589.9 186.8ZM597.5 223.2L600.1 225.8L597.5 228.4L594.9 225.8ZM567.7 196.5L570.3 199.1L567.7 201.7L565.1 199.1ZM569.0 217.7L571.6 220.3L569.0 222.9L566.4 220.3ZM577.0 201.0L579.6 203.6L577.0 206.2L574.4 203.6ZM583.9 203.4L586.5 206.0L583.9 208.6L581.3 206.0ZM588.4 224.0L591.0 226.6L588.4 229.2L585.8 226.6ZM597.2 211.3L599.8 213.9L597.2 216.5L594.6 213.9ZM587.2 211.7L589.8 214.3L587.2 216.9L584.6 214.3ZM567.0 193.3L569.6 195.9L567.0 198.5L564.4 195.9ZM575.7 204.9L578.3 207.5L575.7 210.1L573.1 207.5ZM591.4 204.4L594.0 207.0L591.4 209.6L588.8 207.0ZM578.1 205.2L580.7 207.8L578.1 210.4L575.5 207.8ZM570.8 201.3L573.4 203.9L570.8 206.5L568.2 203.9ZM576.6 215.8L579.2 218.4L576.6 221.0L574.0 218.4ZM566.6 206.5L569.2 209.1L566.6 211.7L564.0 209.1ZM569.2 212.6L571.8 215.2L569.2 217.8L566.6 215.2ZM564.3 195.0L566.9 197.6L564.3 200.2L561.7 197.6ZM575.0 210.2L577.6 212.8L575.0 215.4L572.4 212.8ZM564.8 202.7L567.4 205.3L564.8 207.9L562.2 205.3ZM570.3 195.2L572.9 197.8L570.3 200.4L567.7 197.8ZM579.7 223.7L582.3 226.3L579.7 228.9L577.1 226.3ZM575.7 191.3L578.3 193.9L575.7 196.5L573.1 193.9ZM589.2 221.7L591.8 224.3L589.2 226.9L586.6 224.3ZM590.0 197.8L592.6 200.4L590.0 203.0L587.4 200.4ZM564.4 209.4L567.0 212.0L564.4 214.6L561.8 212.0ZM597.4 225.3L600.0 227.9L597.4 230.5L594.8 227.9ZM592.1 210.3L594.7 212.9L592.1 215.5L589.5 212.9ZM571.0 205.5L573.6 208.1L571.0 210.7L568.4 208.1ZM594.3 190.2L596.9 192.8L594.3 195.4L591.7 192.8ZM573.2 220.1L575.8 222.7L573.2 225.3L570.6 222.7ZM581.0 212.6L583.6 215.2L581.0 217.8L578.4 215.2ZM587.7 192.4L590.3 195.0L587.7 197.6L585.1 195.0ZM573.0 194.1L575.6 196.7L573.0 199.3L570.4 196.7ZM577.7 193.5L580.3 196.1L577.7 198.7L575.1 196.1ZM595.2 223.8L597.8 226.4L595.2 229.0L592.6 226.4ZM589.6 200.9L592.2 203.5L589.6 206.1L587.0 203.5ZM583.5 236.0L586.1 238.6L583.5 241.2L580.9 238.6ZM589.0 227.2L591.6 229.8L589.0 232.4L586.4 229.8ZM594.6 232.8L597.2 235.4L594.6 238.0L592.0 235.4ZM586.5 228.2L589.1 230.8L586.5 233.4L583.9 230.8ZM601.9 229.6L604.5 232.2L601.9 234.8L599.3 232.2ZM601.3 238.4L603.9 241.0L601.3 243.6L598.7 241.0ZM608.2 241.3L610.8 243.9L608.2 246.5L605.6 243.9ZM603.5 234.3L606.1 236.9L603.5 239.5L600.9 236.9ZM608.4 239.3L611.0 241.9L608.4 244.5L605.8 241.9ZM596.4 234.7L599.0 237.3L596.4 239.9L593.8 237.3ZM596.0 239.1L598.6 241.7L596.0 244.3L593.4 241.7ZM598.6 229.2L601.2 231.8L598.6 234.4L596.0 231.8ZM581.1 232.5L583.7 235.1L581.1 237.7L578.5 235.1ZM610.2 226.2L612.8 228.8L610.2 231.4L607.6 228.8ZM601.6 235.4L604.2 238.0L601.6 240.6L599.0 238.0ZM582.8 227.3L585.4 229.9L582.8 232.5L580.2 229.9ZM601.7 231.7L604.3 234.3L601.7 236.9L599.1 234.3ZM591.7 232.5L594.3 235.1L591.7 237.7L589.1 235.1ZM580.6 236.8L583.2 239.4L580.6 242.0L578.0 239.4ZM598.2 233.6L600.8 236.2L598.2 238.8L595.6 236.2ZM589.2 238.8L591.8 241.4L589.2 244.0L586.6 241.4ZM606.7 233.8L609.3 236.4L606.7 239.0L604.1 236.4ZM580.2 226.2L582.8 228.8L580.2 231.4L577.6 228.8ZM582.5 224.9L585.1 227.5L582.5 230.1L579.9 227.5ZM600.3 233.7L602.9 236.3L600.3 238.9L597.7 236.3ZM601.4 220.0L604.0 222.6L601.4 225.2L598.8 222.6ZM599.7 213.2L602.3 215.8L599.7 218.4L597.1 215.8ZM597.2 204.1L599.8 206.7L597.2 209.3L594.6 206.7ZM596.9 206.9L599.5 209.5L596.9 212.1L594.3 209.5ZM595.2 208.5L597.8 211.1L595.2 213.7L592.6 211.1ZM597.4 214.6L600.0 217.2L597.4 219.8L594.8 217.2ZM596.2 202.2L598.8 204.8L596.2 207.4L593.6 204.8ZM595.0 192.2L597.6 194.8L595.0 197.4L592.4 194.8ZM572.6 209.4L575.2 212.0L572.6 214.6L570.0 212.0ZM587.6 196.3L590.2 198.9L587.6 201.5L585.0 198.9ZM593.3 194.0L595.9 196.6L593.3 199.2L590.7 196.6ZM595.0 195.8L597.6 198.4L595.0 201.0L592.4 198.4ZM589.0 190.4L591.6 193.0L589.0 195.6L586.4 193.0ZM593.2 201.2L595.8 203.8L593.2 206.4L590.6 203.8ZM594.5 204.9L597.1 207.5L594.5 210.1L591.9 207.5ZM590.5 265.7L593.1 268.3L590.5 270.9L587.9 268.3ZM588.3 269.0L590.9 271.6L588.3 274.2L585.7 271.6ZM580.2 264.9L582.8 267.5L580.2 270.1L577.6 267.5ZM590.5 268.5L593.1 271.1L590.5 273.7L587.9 271.1ZM585.2 257.9L587.8 260.5L585.2 263.1L582.6 260.5ZM582.6 270.3L585.2 272.9L582.6 275.5L580.0 272.9ZM577.7 260.2L580.3 262.8L577.7 265.4L575.1 262.8ZM591.2 262.1L593.8 264.7L591.2 267.3L588.6 264.7ZM582.8 264.8L585.4 267.4L582.8 270.0L580.2 267.4ZM588.9 262.8L591.5 265.4L588.9 268.0L586.3 265.4ZM597.3 264.1L599.9 266.7L597.3 269.3L594.7 266.7ZM606.7 260.5L609.3 263.1L606.7 265.7L604.1 263.1ZM598.3 265.9L600.9 268.5L598.3 271.1L595.7 268.5ZM610.2 261.1L612.8 263.7L610.2 266.3L607.6 263.7ZM604.1 256.4L606.7 259.0L604.1 261.6L601.5 259.0ZM605.7 253.6L608.3 256.2L605.7 258.8L603.1 256.2ZM609.9 256.3L612.5 258.9L609.9 261.5L607.3 258.9ZM598.7 253.1L601.3 255.7L598.7 258.3L596.1 255.7ZM614.0 265.0L616.6 267.6L614.0 270.2L611.4 267.6ZM611.5 262.9L614.1 265.5L611.5 268.1L608.9 265.5ZM613.0 258.7L615.6 261.3L613.0 263.9L610.4 261.3Z" fill="none" stroke="#1f5cb8" stroke-width="1.2"/>
<rect x="482.70" y="24.30" width="329.20" height="330.40" fill="none" stroke="#231f20" stroke-width="1.3"/>
<rect x="482.70" y="24.30" width="19.90" height="19.90" fill="#fff" stroke="#231f20" stroke-width="1.1"/>
<text x="493.10" y="40.40" font-size="16" text-anchor="middle" font-family='"Liberation Serif", "Noto Serif CJK SC", serif' >b</text>
<text x="479.20" y="359.40" font-size="16" text-anchor="end" font-family='"Liberation Serif", "Noto Serif CJK SC", serif' >0</text>
<text x="479.20" y="322.30" font-size="16" text-anchor="end" font-family='"Liberation Serif", "Noto Serif CJK SC", serif' >100</text>
<text x="479.20" y="282.40" font-size="16" text-anchor="end" font-family='"Liberation Serif", "Noto Serif CJK SC", serif' >200</text>
<text x="479.20" y="247.40" font-size="16" text-anchor="end" font-family='"Liberation Serif", "Noto Serif CJK SC", serif' >300</text>
<text x="479.20" y="214.60" font-size="16" text-anchor="end" font-family='"Liberation Serif", "Noto Serif CJK SC", serif' >400</text>
<text x="479.20" y="177.50" font-size="16" text-anchor="end" font-family='"Liberation Serif", "Noto Serif CJK SC", serif' >500</text>
<text x="479.20" y="139.60" font-size="16" text-anchor="end" font-family='"Liberation Serif", "Noto Serif CJK SC", serif' >600</text>
<text x="479.20" y="102.30" font-size="16" text-anchor="end" font-family='"Liberation Serif", "Noto Serif CJK SC", serif' >700</text>
<text x="479.20" y="64.60" font-size="16" text-anchor="end" font-family='"Liberation Serif", "Noto Serif CJK SC", serif' >800</text>
<text x="479.20" y="32.30" font-size="16" text-anchor="end" font-family='"Liberation Serif", "Noto Serif CJK SC", serif' >900</text>
<text x="483.10" y="379.00" font-size="16" text-anchor="middle" font-family='"Liberation Serif", "Noto Serif CJK SC", serif' >400</text>
<text x="540.62" y="379.00" font-size="16" text-anchor="middle" font-family='"Liberation Serif", "Noto Serif CJK SC", serif' >420</text>
<text x="598.14" y="379.00" font-size="16" text-anchor="middle" font-family='"Liberation Serif", "Noto Serif CJK SC", serif' >440</text>
<text x="655.66" y="379.00" font-size="16" text-anchor="middle" font-family='"Liberation Serif", "Noto Serif CJK SC", serif' >460</text>
<text x="713.18" y="379.00" font-size="16" text-anchor="middle" font-family='"Liberation Serif", "Noto Serif CJK SC", serif' >480</text>
<text x="770.70" y="379.00" font-size="16" text-anchor="middle" font-family='"Liberation Serif", "Noto Serif CJK SC", serif' >500</text>
<text x="602.5" y="397.5" font-size="16.5" font-family='"Liberation Serif", "Noto Serif CJK SC", serif'><tspan font-style="italic">T</tspan><tspan font-size="9.5" dy="3.5">max</tspan><tspan dy="-3.5">/℃</tspan></text>
<text transform="translate(446.0,188.5) rotate(-90) scale(1.11,1)" font-size="16" text-anchor="middle" font-family='"Liberation Serif", "Noto Serif CJK SC", serif'><tspan font-style="italic">I</tspan><tspan font-size="9.5" dy="3.5">H</tspan><tspan dy="-3.5">/(mg/g)</tspan></text>
<rect x="664.60" y="30.80" width="138.20" height="69.00" fill="#fff" stroke="#231f20" stroke-width="1.1"/>
<path d="M682.6 39.6L685.6 42.6L682.6 45.6L679.6 42.6Z" fill="none" stroke="#1f5cb8" stroke-width="1.2"/>
<path d="M682.6 62.5L685.9 68.9L679.3 68.9Z" fill="none" stroke="#1a1a1a" stroke-width="1.1"/>
<path d="M682.6 85.1L685.9 91.5L679.3 91.5Z" fill="none" stroke="#ea2a25" stroke-width="1.1"/>
<text transform="translate(691.00,49.80) scale(1,0.87)" font-size="17" font-family='"Liberation Serif", "Noto Serif CJK SC", serif'>流二中上亚段</text>
<text transform="translate(691.00,72.30) scale(1,0.87)" font-size="17" font-family='"Liberation Serif", "Noto Serif CJK SC", serif'>流二下亚段</text>
<text transform="translate(691.00,95.00) scale(1,0.87)" font-size="17" font-family='"Liberation Serif", "Noto Serif CJK SC", serif'>流三上亚段</text>
<path d="M827.1 355.0L995.8 60.3L1164.2 355.0Z" fill="none" stroke="#231f20" stroke-width="1.25" stroke-linejoin="miter"/>
<line x1="879.25" y1="263.90" x2="1013.60" y2="265.60" stroke="#231f20" stroke-width="1.25"/>
<line x1="1013.60" y1="265.60" x2="1063.63" y2="179.00" stroke="#231f20" stroke-width="1.25"/>
<line x1="1013.60" y1="265.60" x2="1064.30" y2="355.00" stroke="#231f20" stroke-width="1.25"/>
<line x1="858.30" y1="300.50" x2="866.30" y2="300.50" stroke="#231f20" stroke-width="1.2"/>
<text x="852.80" y="304.80" font-size="16" text-anchor="end" font-family='"Liberation Serif", "Noto Serif CJK SC", serif' >20</text>
<line x1="894.71" y1="236.90" x2="902.71" y2="236.90" stroke="#231f20" stroke-width="1.2"/>
<text x="889.21" y="241.80" font-size="16" text-anchor="end" font-family='"Liberation Serif", "Noto Serif CJK SC", serif' >40</text>
<line x1="929.28" y1="176.50" x2="937.28" y2="176.50" stroke="#231f20" stroke-width="1.2"/>
<text x="923.78" y="180.90" font-size="16" text-anchor="end" font-family='"Liberation Serif", "Noto Serif CJK SC", serif' >60</text>
<line x1="961.68" y1="119.90" x2="969.68" y2="119.90" stroke="#231f20" stroke-width="1.2"/>
<text x="956.18" y="125.90" font-size="16" text-anchor="end" font-family='"Liberation Serif", "Noto Serif CJK SC", serif' >80</text>
<line x1="1028.60" y1="117.70" x2="1020.60" y2="117.70" stroke="#231f20" stroke-width="1.2"/>
<text x="1033.40" y="123.10" font-size="16" text-anchor="start" font-family='"Liberation Serif", "Noto Serif CJK SC", serif' >20</text>
<line x1="1062.03" y1="176.20" x2="1054.03" y2="176.20" stroke="#231f20" stroke-width="1.2"/>
<text x="1066.83" y="181.00" font-size="16" text-anchor="start" font-family='"Liberation Serif", "Noto Serif CJK SC", serif' >40</text>
<line x1="1096.43" y1="236.40" x2="1088.43" y2="236.40" stroke="#231f20" stroke-width="1.2"/>
<text x="1101.23" y="240.50" font-size="16" text-anchor="start" font-family='"Liberation Serif", "Noto Serif CJK SC", serif' >60</text>
<line x1="1133.34" y1="301.00" x2="1125.34" y2="301.00" stroke="#231f20" stroke-width="1.2"/>
<text x="1138.14" y="303.00" font-size="16" text-anchor="start" font-family='"Liberation Serif", "Noto Serif CJK SC", serif' >80</text>
<line x1="901.00" y1="355.00" x2="898.80" y2="348.20" stroke="#231f20" stroke-width="1.2"/>
<text x="903.00" y="378.80" font-size="16" text-anchor="middle" font-family='"Liberation Serif", "Noto Serif CJK SC", serif' >80</text>
<line x1="968.00" y1="355.00" x2="965.80" y2="348.20" stroke="#231f20" stroke-width="1.2"/>
<text x="970.00" y="378.80" font-size="16" text-anchor="middle" font-family='"Liberation Serif", "Noto Serif CJK SC", serif' >60</text>
<line x1="1034.70" y1="355.00" x2="1032.50" y2="348.20" stroke="#231f20" stroke-width="1.2"/>
<text x="1036.70" y="378.80" font-size="16" text-anchor="middle" font-family='"Liberation Serif", "Noto Serif CJK SC", serif' >40</text>
<line x1="1099.10" y1="355.00" x2="1096.90" y2="348.20" stroke="#231f20" stroke-width="1.2"/>
<text x="1101.10" y="378.80" font-size="16" text-anchor="middle" font-family='"Liberation Serif", "Noto Serif CJK SC", serif' >20</text>
<text x="825.70" y="378.80" font-size="16" text-anchor="middle" font-family='"Liberation Serif", "Noto Serif CJK SC", serif' >100</text>
<text x="1169.00" y="362.30" font-size="16" text-anchor="start" font-family='"Liberation Serif", "Noto Serif CJK SC", serif' >100</text>
<text x="994.80" y="56.50" font-size="16" text-anchor="middle" font-family='"Liberation Serif", "Noto Serif CJK SC", serif' >100</text>
<text x="997.30" y="40.50" font-size="16.5" text-anchor="middle" font-family='"Liberation Serif", "Noto Serif CJK SC", serif' ><tspan letter-spacing="1.8">壳质</tspan>组/%</text>
<text x="826.00" y="398.50" font-size="16.5" text-anchor="middle" font-family='"Liberation Serif", "Noto Serif CJK SC", serif' ><tspan letter-spacing="1.8">腐泥</tspan>组/%</text>
<text x="1172.40" y="398.50" font-size="16.5" text-anchor="middle" font-family='"Liberation Serif", "Noto Serif CJK SC", serif' ><tspan letter-spacing="1.8">镜质组+惰质</tspan>组/%</text>
<text x="986.80" y="193.00" font-size="16.5" text-anchor="middle" font-family='"Liberation Serif", "Noto Serif CJK SC", serif' letter-spacing="1">混合型</text>
<text x="935.00" y="299.50" font-size="16.5" text-anchor="middle" font-family='"Liberation Serif", "Noto Serif CJK SC", serif' letter-spacing="1">腐泥型</text>
<text x="1075.90" y="300.40" font-size="16.5" text-anchor="middle" font-family='"Liberation Serif", "Noto Serif CJK SC", serif' letter-spacing="1">腐殖型</text>
<path d="M838.1 347.1L840.7 349.7L838.1 352.3L835.5 349.7ZM846.1 344.6L848.7 347.2L846.1 349.8L843.5 347.2ZM844.1 346.6L846.7 349.2L844.1 351.8L841.5 349.2ZM853.2 346.6L855.8 349.2L853.2 351.8L850.6 349.2ZM861.2 347.6L863.8 350.2L861.2 352.8L858.6 350.2ZM866.3 346.1L868.9 348.7L866.3 351.3L863.7 348.7ZM869.3 348.6L871.9 351.2L869.3 353.8L866.7 351.2ZM873.3 345.6L875.9 348.2L873.3 350.8L870.7 348.2ZM877.4 342.6L880.0 345.2L877.4 347.8L874.8 345.2ZM881.4 336.5L884.0 339.1L881.4 341.7L878.8 339.1ZM883.4 340.6L886.0 343.2L883.4 345.8L880.8 343.2ZM878.4 346.6L881.0 349.2L878.4 351.8L875.8 349.2ZM882.4 347.6L885.0 350.2L882.4 352.8L879.8 350.2ZM885.4 336.5L888.0 339.1L885.4 341.7L882.8 339.1ZM901.1 328.5L903.7 331.1L901.1 333.7L898.5 331.1ZM907.7 328.5L910.3 331.1L907.7 333.7L905.1 331.1ZM933.9 327.0L936.5 329.6L933.9 332.2L931.3 329.6ZM909.2 333.5L911.8 336.1L909.2 338.7L906.6 336.1ZM907.2 337.6L909.8 340.2L907.2 342.8L904.6 340.2ZM910.2 337.1L912.8 339.7L910.2 342.3L907.6 339.7ZM904.7 340.1L907.3 342.7L904.7 345.3L902.1 342.7ZM927.3 333.5L929.9 336.1L927.3 338.7L924.7 336.1ZM924.3 335.5L926.9 338.1L924.3 340.7L921.7 338.1ZM933.4 337.1L936.0 339.7L933.4 342.3L930.8 339.7ZM918.3 339.6L920.9 342.2L918.3 344.8L915.7 342.2ZM915.2 341.6L917.8 344.2L915.2 346.8L912.6 344.2ZM892.1 342.6L894.7 345.2L892.1 347.8L889.5 345.2ZM896.1 342.6L898.7 345.2L896.1 347.8L893.5 345.2ZM894.1 344.6L896.7 347.2L894.1 349.8L891.5 347.2ZM913.2 344.6L915.8 347.2L913.2 349.8L910.6 347.2ZM905.2 344.6L907.8 347.2L905.2 349.8L902.6 347.2ZM882.0 343.6L884.6 346.2L882.0 348.8L879.4 346.2ZM886.0 345.6L888.6 348.2L886.0 350.8L883.4 348.2ZM928.3 343.6L930.9 346.2L928.3 348.8L925.7 346.2ZM969.2 337.6L971.8 340.2L969.2 342.8L966.6 340.2ZM978.3 341.1L980.9 343.7L978.3 346.3L975.7 343.7ZM939.0 343.1L941.6 345.7L939.0 348.3L936.4 345.7ZM955.1 344.1L957.7 346.7L955.1 349.3L952.5 346.7ZM962.2 344.6L964.8 347.2L962.2 349.8L959.6 347.2ZM980.3 345.6L982.9 348.2L980.3 350.8L977.7 348.2ZM982.3 347.6L984.9 350.2L982.3 352.8L979.7 350.2ZM970.2 348.6L972.8 351.2L970.2 353.8L967.6 351.2ZM1030.8 324.0L1033.4 326.6L1030.8 329.2L1028.2 326.6ZM1004.6 339.6L1007.2 342.2L1004.6 344.8L1002.0 342.2ZM1011.1 344.1L1013.7 346.7L1011.1 349.3L1008.5 346.7ZM993.0 351.7L995.6 354.3L993.0 356.9L990.4 354.3ZM890.0 338.4L892.6 341.0L890.0 343.6L887.4 341.0ZM898.0 346.4L900.6 349.0L898.0 351.6L895.4 349.0ZM921.0 345.4L923.6 348.0L921.0 350.6L918.4 348.0ZM931.0 340.4L933.6 343.0L931.0 345.6L928.4 343.0ZM947.0 346.4L949.6 349.0L947.0 351.6L944.4 349.0ZM976.0 346.4L978.6 349.0L976.0 351.6L973.4 349.0ZM986.0 349.4L988.6 352.0L986.0 354.6L983.4 352.0ZM850.0 348.4L852.6 351.0L850.0 353.6L847.4 351.0ZM858.0 346.4L860.6 349.0L858.0 351.6L855.4 349.0ZM874.0 348.4L876.6 351.0L874.0 353.6L871.4 351.0ZM863.0 349.4L865.6 352.0L863.0 354.6L860.4 352.0ZM900.0 350.4L902.6 353.0L900.0 355.6L897.4 353.0ZM911.0 348.4L913.6 351.0L911.0 353.6L908.4 351.0Z" fill="none" stroke="#1f5cb8" stroke-width="1.2"/>
<path d="M842.1 349.5L845.4 355.9L838.8 355.9ZM851.2 344.5L854.5 350.9L847.9 350.9ZM849.2 349.0L852.5 355.4L845.9 355.4ZM846.1 350.6L849.4 357.0L842.8 357.0ZM869.3 350.0L872.6 356.4L866.0 356.4ZM881.4 350.6L884.7 357.0L878.1 357.0ZM840.1 351.1L843.4 357.5L836.8 357.5ZM884.0 349.0L887.3 355.4L880.7 355.4ZM896.1 348.0L899.4 354.4L892.8 354.4ZM892.1 350.0L895.4 356.4L888.8 356.4ZM900.1 349.5L903.4 355.9L896.8 355.9ZM908.2 349.0L911.5 355.4L904.9 355.4ZM913.2 349.5L916.5 355.9L909.9 355.9ZM918.3 348.0L921.6 354.4L915.0 354.4ZM922.3 349.0L925.6 355.4L919.0 355.4ZM926.3 348.0L929.6 354.4L923.0 354.4ZM930.4 346.0L933.7 352.4L927.1 352.4ZM933.4 348.0L936.7 354.4L930.1 354.4ZM929.3 350.0L932.6 356.4L926.0 356.4ZM947.1 348.0L950.4 354.4L943.8 354.4ZM955.1 348.0L958.4 354.4L951.8 354.4ZM971.2 346.0L974.5 352.4L967.9 352.4ZM985.4 348.0L988.7 354.4L982.1 354.4ZM876.0 349.8L879.3 356.2L872.7 356.2ZM862.0 349.8L865.3 356.2L858.7 356.2ZM855.0 349.8L858.3 356.2L851.7 356.2Z" fill="none" stroke="#1a1a1a" stroke-width="1.1"/>
<path d="M866.3 340.0L869.6 346.4L863.0 346.4ZM868.3 341.0L871.6 347.4L865.0 347.4ZM858.2 349.5L861.5 355.9L854.9 355.9ZM925.3 339.0L928.6 345.4L922.0 345.4ZM905.2 349.0L908.5 355.4L901.9 355.4ZM937.4 346.0L940.7 352.4L934.1 352.4ZM940.0 348.0L943.3 354.4L936.7 354.4ZM952.1 345.0L955.4 351.4L948.8 351.4ZM960.2 345.0L963.5 351.4L956.9 351.4ZM962.2 347.0L965.5 353.4L958.9 353.4ZM968.2 349.0L971.5 355.4L964.9 355.4ZM975.3 348.5L978.6 354.9L972.0 354.9ZM993.4 345.0L996.7 351.4L990.1 351.4ZM991.4 348.0L994.7 354.4L988.1 354.4ZM936.0 348.0L939.3 354.4L932.7 354.4ZM997.0 342.5L1000.3 348.9L993.7 348.9ZM1007.1 348.5L1010.4 354.9L1003.8 354.9ZM1012.7 349.0L1016.0 355.4L1009.4 355.4ZM1055.5 350.1L1058.8 356.5L1052.2 356.5ZM980.0 348.8L983.3 355.2L976.7 355.2ZM946.0 348.8L949.3 355.2L942.7 355.2Z" fill="none" stroke="#ea2a25" stroke-width="1.1"/>
<rect x="835.50" y="24.50" width="19.00" height="19.50" fill="#fff" stroke="#231f20" stroke-width="1.1"/>
<text x="845.00" y="39.80" font-size="16" text-anchor="middle" font-family='"Liberation Serif", "Noto Serif CJK SC", serif' >c</text>
<rect x="1058.30" y="30.80" width="138.20" height="69.00" fill="#fff" stroke="#231f20" stroke-width="1.1"/>
<path d="M1076.3 39.6L1079.3 42.6L1076.3 45.6L1073.3 42.6Z" fill="none" stroke="#1f5cb8" stroke-width="1.2"/>
<path d="M1076.3 62.5L1079.6 68.9L1073.0 68.9Z" fill="none" stroke="#1a1a1a" stroke-width="1.1"/>
<path d="M1076.3 85.1L1079.6 91.5L1073.0 91.5Z" fill="none" stroke="#ea2a25" stroke-width="1.1"/>
<text transform="translate(1084.70,49.80) scale(1,0.87)" font-size="17" font-family='"Liberation Serif", "Noto Serif CJK SC", serif'>流二中上亚段</text>
<text transform="translate(1084.70,72.30) scale(1,0.87)" font-size="17" font-family='"Liberation Serif", "Noto Serif CJK SC", serif'>流二下亚段</text>
<text transform="translate(1084.70,95.00) scale(1,0.87)" font-size="17" font-family='"Liberation Serif", "Noto Serif CJK SC", serif'>流三上亚段</text>
</svg>
</body></html>
